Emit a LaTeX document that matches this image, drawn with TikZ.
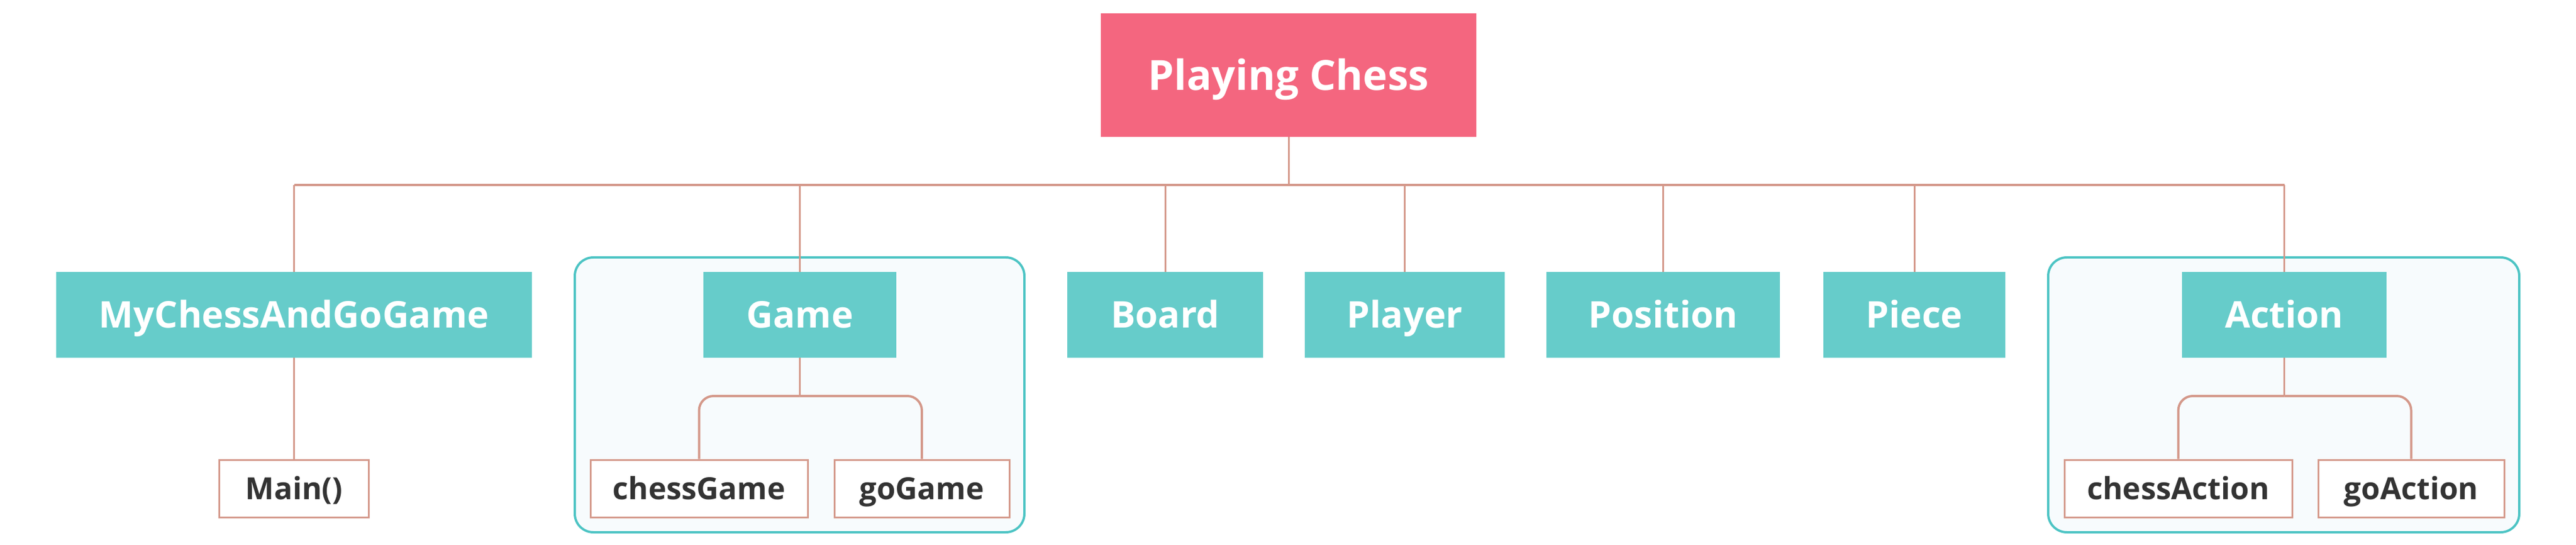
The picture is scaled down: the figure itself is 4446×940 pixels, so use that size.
\documentclass[tikz,border=0pt]{standalone}
\usepackage{fontspec}
\setmainfont{Open Sans}
\definecolor{pinkc}{HTML}{F4667F}
\definecolor{tealc}{HTML}{66CCCA}
\definecolor{connc}{HTML}{D4988A}
\definecolor{grpborder}{HTML}{4DC4C4}
\definecolor{grpfill}{HTML}{F7FBFD}
\definecolor{subtext}{HTML}{333333}
\tikzset{
  rootbox/.style={fill=pinkc, text=white, inner sep=0pt, font=\fontsize{35.8}{40}\selectfont\bfseries,
    text height=25.6pt, text depth=0pt, minimum width=324pt, minimum height=106.5pt},
  tealbox/.style={fill=tealc, text=white, inner sep=0pt, font=\fontsize{31.7}{36}\selectfont\bfseries,
    text height=22.6pt, text depth=0pt, minimum height=74pt},
  subbox/.style={draw=connc, line width=1.5pt, fill=white, text=subtext, inner sep=0pt,
    font=\fontsize{26.3}{30}\selectfont\bfseries, text height=18.8pt, text depth=0pt, minimum height=49.5pt},
  grpbox/.style={draw=grpborder, line width=2pt, fill=grpfill, rounded corners=16pt,
    minimum width=#1, minimum height=237pt, inner sep=0pt},
  conn/.style={draw=connc, line width=1.5pt},
  busline/.style={draw=connc, line width=2.2pt},
  branch/.style={draw=connc, line width=2pt, rounded corners=12.5pt},
}
\begin{document}
\begin{tikzpicture}[x=0.5pt, y=-0.5pt]
\useasboundingbox (0,0) rectangle (4446,940);
% groups
\node[grpbox=388pt] (ggrp) at (1380,681) {};
\node[grpbox=406.5pt] (agrp) at (3941.5,681) {};
% root
\node[rootbox] (root) at (2224,129.5) {Playing Chess};
% level 1
\node[tealbox, minimum width=410.5pt] (mcg) at (507.5,543) {MyChessAndGoGame};
\node[tealbox, minimum width=166.5pt] (game) at (1380.5,543) {Game};
\node[tealbox, minimum width=169pt] (board) at (2011,543) {Board};
\node[tealbox, minimum width=172.5pt] (player) at (2424.5,543) {Player};
\node[tealbox, minimum width=201.5pt] (pos) at (2870.5,543) {Position};
\node[tealbox, minimum width=157pt] (piece) at (3304,543) {Piece};
\node[tealbox, minimum width=176.5pt] (action) at (3942.5,543) {Action};
% level 2
\node[subbox, minimum width=129pt] (main) at (507.5,842.5) {Main()};
\node[subbox, minimum width=187.5pt] (cg) at (1206.5,842.5) {chessGame};
\node[subbox, minimum width=151pt] (gg) at (1591,842.5) {goGame};
\node[subbox, minimum width=196.5pt] (ca) at (3759.5,842.5) {chessAction};
\node[subbox, minimum width=160.5pt] (ga) at (4161.5,842.5) {goAction};
% bus
\coordinate (bus) at (2224,319);
\draw[conn] (root.south) -- (bus);
\draw[busline] (mcg.north |- bus) -- (action.north |- bus);
\foreach \c in {mcg,game,board,player,pos,piece,action}{
  \draw[conn] (\c.north |- bus) -- (\c.north);
}
% sub connectors
\draw[conn] (mcg.south) -- (main.north);
\coordinate (gj) at (1380.5,683);
\draw[conn] (game.south) -- (gj);
\draw[branch] (gj) -| (cg.north);
\draw[branch] (gj) -| (gg.north);
\coordinate (aj) at (3942.5,683);
\draw[conn] (action.south) -- (aj);
\draw[branch] (aj) -| (ca.north);
\draw[branch] (aj) -| (ga.north);
\end{tikzpicture}
\end{document}
